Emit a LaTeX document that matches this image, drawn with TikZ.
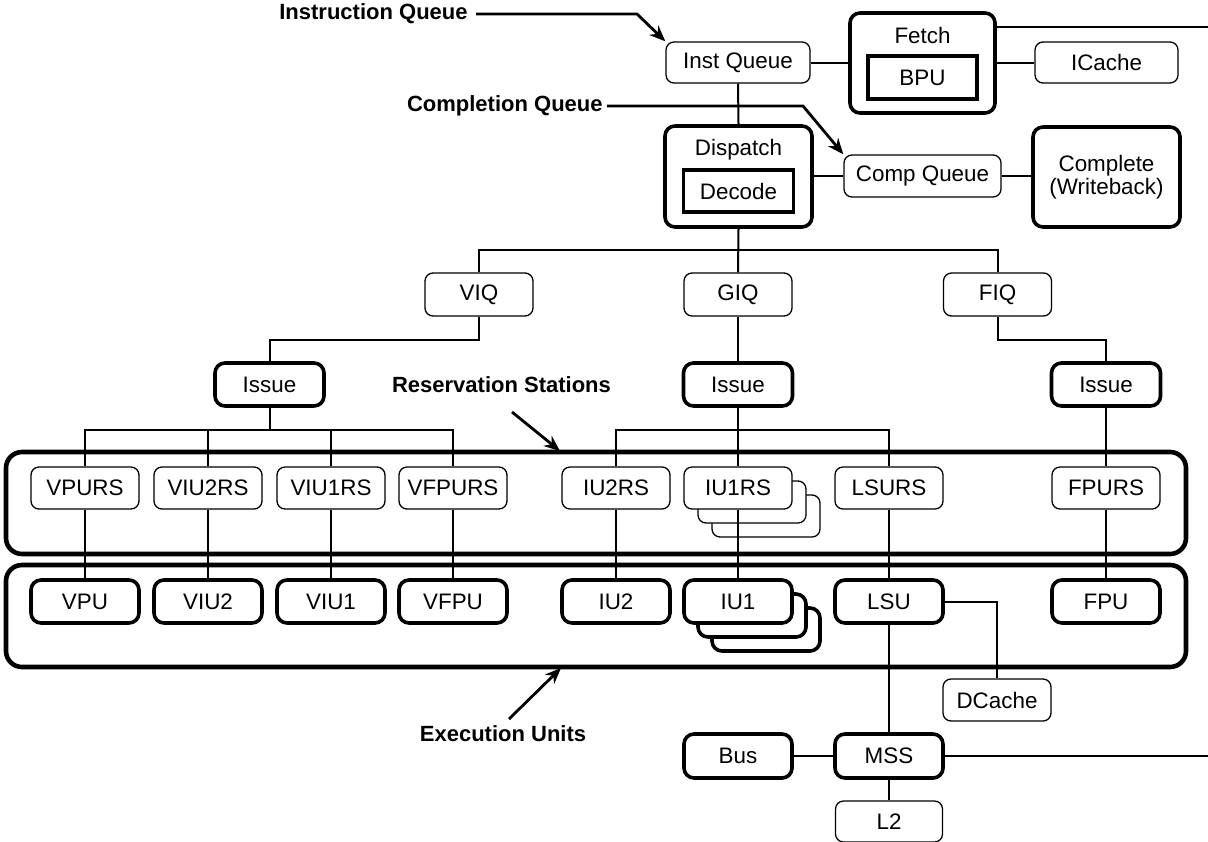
\documentclass[tikz,border=0pt]{standalone}
\usepackage{fontspec}
\setmainfont{Liberation Sans}
\usetikzlibrary{arrows.meta}
\begin{document}
\begin{tikzpicture}[
  x=0.5pt, y=-0.5pt,
  every node/.style={font=\fontsize{11.2}{11.2}\selectfont, inner sep=0pt, align=center},
  thinbox/.style={draw, rounded corners=4pt, line width=0.65pt, fill=white},
  thickbox/.style={draw, rounded corners=5pt, line width=1.8pt, fill=white},
  sqbox/.style={draw, line width=1.7pt, fill=white},
  iqbox/.style={thinbox, minimum width=54pt, minimum height=21.5pt},
  issuebox/.style={thickbox, minimum width=54.5pt, minimum height=21.5pt},
  rsbox/.style={thinbox, minimum width=54pt, minimum height=21pt},
  eubox/.style={thickbox, minimum width=54pt, minimum height=21.5pt},
  wire/.style={line width=1pt},
  pointer/.style={line width=1.4pt, -{Stealth[length=8pt,width=6.5pt]}},
  callout/.style={font=\bfseries\fontsize{11}{13}\selectfont},
  frame/.style={line width=2.3pt, rounded corners=8pt}
]
\path[use as bounding box, fill=white] (0,0) rectangle (1208,841);

% reservation-station and execution-unit frames
\draw[frame] (6,452) rectangle (1186,554);
\draw[frame] (6,565) rectangle (1186,667);

% front end
\node[thinbox, minimum width=72pt, minimum height=20.5pt] (instq) at (738,62.5) {Inst Queue};
\node[thickbox, minimum width=72.5pt, minimum height=50pt] (fetch) at (922.5,63) {};
\node (fetchlbl) at (922.5,35) {Fetch};
\node[sqbox, minimum width=54.5pt, minimum height=21.5pt] (bpu) at (922.5,77.5) {BPU};
\node[thinbox, minimum width=71.5pt, minimum height=20.5pt] (icache) at (1106.5,62.5) {ICache};

\node[thickbox, minimum width=73.5pt, minimum height=50.5pt] (dispatch) at (738.5,176.5) {};
\node (displbl) at (738.5,150) {Dispatch};
\node[sqbox, minimum width=55pt, minimum height=21pt] (decode) at (738.5,191) {Decode};
\node[thinbox, minimum width=78.5pt, minimum height=21pt] (compq) at (922.5,176) {Comp Queue};
\node[thickbox, minimum width=73.5pt, minimum height=50pt] (complete) at (1106.5,177) {Complete\\(Writeback)};

% issue queues
\node[iqbox] (viq) at (479,294.5) {VIQ};
\node[iqbox] (giq) at (738,294.5) {GIQ};
\node[iqbox] (fiq) at (997.5,294.5) {FIQ};

\node[issuebox] (issue1) at (269.5,384.5) {Issue};
\node[issuebox] (issue2) at (738,384.5) {Issue};
\node[issuebox] (issue3) at (1106,384.5) {Issue};

% reservation stations
\node[rsbox] (iu1rsc) at (766,516) {};
\node[rsbox] (iu1rsb) at (752,502) {};
\node[rsbox] (vpurs) at (85,488) {VPURS};
\node[rsbox] (viu2rs) at (208,488) {VIU2RS};
\node[rsbox] (viu1rs) at (331,488) {VIU1RS};
\node[rsbox] (vfpurs) at (453,488) {VFPURS};
\node[rsbox] (iu2rs) at (616,488) {IU2RS};
\node[rsbox] (iu1rs) at (738,488) {IU1RS};
\node[rsbox] (lsurs) at (889,488) {LSURS};
\node[rsbox] (fpurs) at (1106,488) {FPURS};

% execution units
\node[eubox] (iu1c) at (766,629.5) {};
\node[eubox] (iu1b) at (752,615.5) {};
\node[eubox] (vpu) at (85,601.5) {VPU};
\node[eubox] (viu2) at (208,601.5) {VIU2};
\node[eubox] (viu1) at (331,601.5) {VIU1};
\node[eubox] (vfpu) at (453,601.5) {VFPU};
\node[eubox] (iu2) at (616,601.5) {IU2};
\node[eubox] (iu1) at (738,601.5) {IU1};
\node[eubox] (lsu) at (889,601.5) {LSU};
\node[eubox] (fpu) at (1106,601.5) {FPU};

% memory side
\node[rsbox] (dcache) at (997,700) {DCache};
\node[thickbox, minimum width=54pt, minimum height=22pt] (bus) at (738,756) {Bus};
\node[thickbox, minimum width=54pt, minimum height=22pt] (mss) at (889,756) {MSS};
\node[thinbox, minimum width=53.5pt, minimum height=20.5pt] (l2) at (889,821.5) {L2};

% connections: front end
\coordinate (topout) at (1208,27);
\coordinate (mssout) at (1208,756);
\draw[wire] (instq.east) -- (fetch.west |- instq.east);
\draw[wire] (fetch.east |- icache.west) -- (icache.west);
\draw[wire] (fetch.east |- topout) -- (topout);
\draw[wire] (instq.south) -- (dispatch.north);
\draw[wire] (dispatch.east |- compq.west) -- (compq.west);
\draw[wire] (compq.east) -- (complete.west |- compq.east);

% dispatch to issue queues
\coordinate (iqbus) at (738,250);
\draw[wire] (dispatch.south) -- (giq.north);
\draw[wire] (viq.north) |- (iqbus) -| (fiq.north);
\draw[wire] (viq.south) -- ++(0,23) -| (issue1.north);
\draw[wire] (giq.south) -- (issue2.north);
\draw[wire] (fiq.south) -- ++(0,23) -| (issue3.north);

% issue to reservation stations
\coordinate (rsbusL) at (269.5,430);
\coordinate (rsbusM) at (738,430);
\draw[wire] (issue1.south) -- (rsbusL);
\draw[wire] (vpurs.north) |- (rsbusL) -| (vfpurs.north);
\draw[wire] (viu2rs.north) -- (viu2rs.north |- rsbusL);
\draw[wire] (viu1rs.north) -- (viu1rs.north |- rsbusL);
\draw[wire] (issue2.south) -- (iu1rs.north);
\draw[wire] (iu2rs.north) |- (rsbusM) -| (lsurs.north);
\draw[wire] (issue3.south) -- (fpurs.north);

% reservation stations to units
\foreach \rs/\eu in {vpurs/vpu, viu2rs/viu2, viu1rs/viu1, vfpurs/vfpu, iu2rs/iu2, iu1rs/iu1, lsurs/lsu, fpurs/fpu}
  \draw[wire] (\rs.south) -- (\eu.north);

% load/store path
\draw[wire] (lsu.south) -- (mss.north);
\draw[wire] (lsu.east) -| (dcache.north);
\draw[wire] (bus.east) -- (mss.west);
\draw[wire] (mss.east) -- (mssout);
\draw[wire] (mss.south) -- (l2.north);

% callouts
\node[callout, anchor=east, inner xsep=4pt] (iql) at (476,14) {Instruction Queue};
\coordinate (iqbend) at (637,14);
\draw[pointer] (iql.east) -- (iqbend) -- (instq.north west);

\node[callout, anchor=east, inner xsep=2pt] (cql) at (607,106) {Completion Queue};
\coordinate (cqbend) at (803,106);
\draw[pointer] (cql.east) -- (cqbend) -- (compq.north west);

\node[callout] (rsl) at (501.5,385) {Reservation Stations};
\coordinate (rsfrom) at (512,412);
\coordinate (rsto) at (560,451);
\draw[pointer] (rsfrom) -- (rsto);

\node[callout] (eul) at (503,734) {Execution Units};
\coordinate (eufrom) at (509,719);
\coordinate (euto) at (561,668);
\draw[pointer] (eufrom) -- (euto);
\end{tikzpicture}
\end{document}
